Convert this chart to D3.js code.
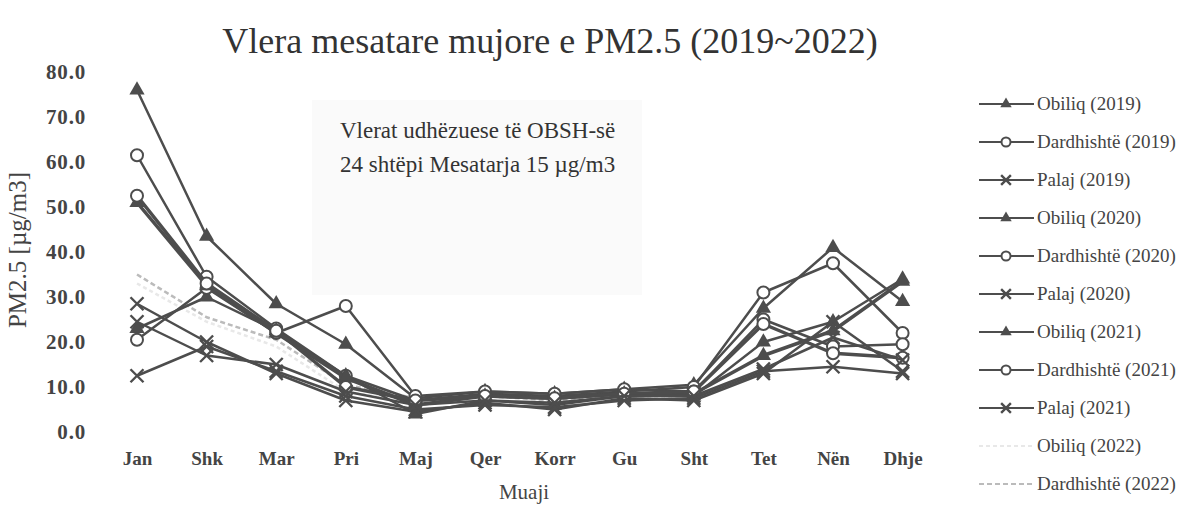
<!DOCTYPE html>
<html><head><meta charset="utf-8">
<script src="https://cdn.jsdelivr.net/npm/d3@7/dist/d3.min.js"></script>
<style>body{margin:0;background:#fff}svg{display:block}</style>
</head><body><svg id="c" width="1191" height="505"></svg>
<script>
const months = ["Jan","Shk","Mar","Pri","Maj","Qer","Korr","Gu","Sht","Tet","Nën","Dhje"];
const yTicks = [0,10,20,30,40,50,60,70,80];
const seriesNames = ["Obiliq (2019)","Dardhishtë (2019)","Palaj (2019)","Obiliq (2020)","Dardhishtë (2020)","Palaj (2020)","Obiliq (2021)","Dardhishtë (2021)","Palaj (2021)","Obiliq (2022)","Dardhishtë (2022)"];
const seriesMarkers = ["triangle","circle","cross","triangle","circle","cross","triangle","circle","cross","none","none"];
const obiliq2019 = [76,43.5,28.5,19.5,7.5,9,8.5,9.5,10.5,27.5,41,29];
const dardhishte2019 = [61.5,34.5,23,12.5,7,8.5,8,9,10,31,37.5,22];
const palaj2019 = [28.5,20,13,7,4.5,6.5,5,7.5,7,13,24.5,13.5];
const obiliq2020 = [23,30,22.5,12.5,4,7,6,8,8,20,24.5,34];
const dardhishte2020 = [20.5,32,22,28,8,9,8.5,9.5,9,25,19,19.5];
const palaj2020 = [12.5,19,13.5,8,5,6,5.5,7,7.5,13.5,14.5,13];
const obiliq2021 = [51,32.5,22,12,6,8,7.5,8.5,8.5,17,22.5,33.5];
const dardhishte2021 = [52.5,33,22.5,10,7,8,7.5,8.5,9,24,17.5,16.5];
const palaj2021 = [24.5,17,15,9,6,7,6.5,8,8,14,21,16];
const obiliq2022 = [33,24.5,19,9,6.5,7,6,7.5,8,null,null,null];
const dardhishte2022 = [35,25.5,20.5,10.5,7.5,8,7,8,9,null,null,null];
const seriesValues = [obiliq2019,dardhishte2019,palaj2019,obiliq2020,dardhishte2020,palaj2020,obiliq2021,dardhishte2021,palaj2021,obiliq2022,dardhishte2022];

const svg = d3.select("#c");
const font = "'Liberation Serif','Times New Roman',serif";
const x = d3.scalePoint().domain(months).range([102.2, 937.4]).padding(0.5);
const y = d3.scaleLinear().domain([0,80]).range([432,72]);

svg.append("rect").attr("x",312).attr("y",100).attr("width",330).attr("height",195).attr("fill","#fafafa");

svg.append("text").attr("x",550).attr("y",53).attr("text-anchor","middle")
  .attr("font-family",font).attr("font-size",36).attr("fill","#333")
  .text("Vlera mesatare mujore e PM2.5 (2019~2022)");

const yAxis = svg.append("g").attr("transform","translate(86,0)")
  .call(d3.axisLeft(y).tickValues(yTicks).tickFormat(d3.format(".1f")).tickSize(0).tickPadding(0));
yAxis.select(".domain").remove();
yAxis.selectAll("text").attr("font-family",font).attr("font-size",21).attr("fill","#444")
  .attr("font-weight","bold").attr("letter-spacing",0.8);

const xAxis = svg.append("g").attr("transform","translate(0,446)")
  .call(d3.axisBottom(x).tickSize(0).tickPadding(6));
xAxis.select(".domain").remove();
xAxis.selectAll("text").attr("font-family",font).attr("font-size",19).attr("fill","#444").attr("font-weight","bold");

svg.append("text").attr("transform","translate(26,250) rotate(-90)").attr("text-anchor","middle")
  .attr("font-family",font).attr("font-size",25).attr("fill","#444").text("PM2.5 [µg/m3]");
svg.append("text").attr("x",524).attr("y",499).attr("text-anchor","middle")
  .attr("font-family",font).attr("font-size",21).attr("fill","#444").text("Muaji");

svg.append("text").attr("x",340).attr("y",138).attr("font-family",font).attr("font-size",23).attr("fill","#333")
  .text("Vlerat udhëzuese të OBSH-së");
svg.append("text").attr("x",340).attr("y",172).attr("font-family",font).attr("font-size",23).attr("fill","#333")
  .text("24 shtëpi Mesatarja 15 µg/m3");

const styles = seriesNames.map((n,i)=>{
  if (i===9) return {stroke:"#e8e8e8", dash:"4,3", width:2.5};
  if (i===10) return {stroke:"#bbbbbb", dash:"5,3", width:2.5};
  return {stroke:"#4d4d4d", dash:null, width:(i===6||i===7)?3.5:2.5};
});

const line = d3.line().defined(d=>d.v!=null).x(d=>x(d.m)).y(d=>y(d.v));
function drawMarker(g, type, cx, cy, col, s){
  s = s||1;
  if (type==="triangle") g.append("path").attr("d",d3.symbol(d3.symbolTriangle,100*s*s)()).attr("transform",`translate(${cx},${cy})`).attr("fill",col);
  else if (type==="circle") g.append("circle").attr("cx",cx).attr("cy",cy).attr("r",6*s).attr("fill","#fff").attr("stroke",col).attr("stroke-width",2);
  else if (type==="cross") { const r=6.5*s; g.append("path").attr("d",`M${cx-r},${cy-r}L${cx+r},${cy+r}M${cx-r},${cy+r}L${cx+r},${cy-r}`).attr("stroke",col).attr("stroke-width",2.4); }
}

const order = [10,9,0,1,2,3,4,5,6,7,8];
order.forEach(i=>{
  const data = months.map((m,j)=>({m, v: seriesValues[i][j]}));
  const g = svg.append("g");
  const p = g.append("path").datum(data).attr("d",line).attr("fill","none")
    .attr("stroke",styles[i].stroke).attr("stroke-width",styles[i].width).attr("stroke-linejoin","round");
  if (styles[i].dash) p.attr("stroke-dasharray",styles[i].dash);
  data.filter(d=>d.v!=null).forEach(d=>drawMarker(g, seriesMarkers[i], x(d.m), y(d.v), styles[i].stroke));
});

const leg = svg.append("g");
seriesNames.forEach((n,i)=>{
  const ly = 104 + i*38;
  const s = styles[i];
  const l = leg.append("line").attr("x1",979).attr("x2",1034).attr("y1",ly).attr("y2",ly)
    .attr("stroke",s.stroke).attr("stroke-width",2.2);
  if (s.dash) l.attr("stroke-dasharray",s.dash);
  drawMarker(leg, seriesMarkers[i], 1006, ly, s.stroke, 0.75);
  leg.append("text").attr("x",1037).attr("y",ly+6).attr("font-family",font).attr("font-size",19)
    .attr("fill","#444").text(n);
});
</script></body></html>
